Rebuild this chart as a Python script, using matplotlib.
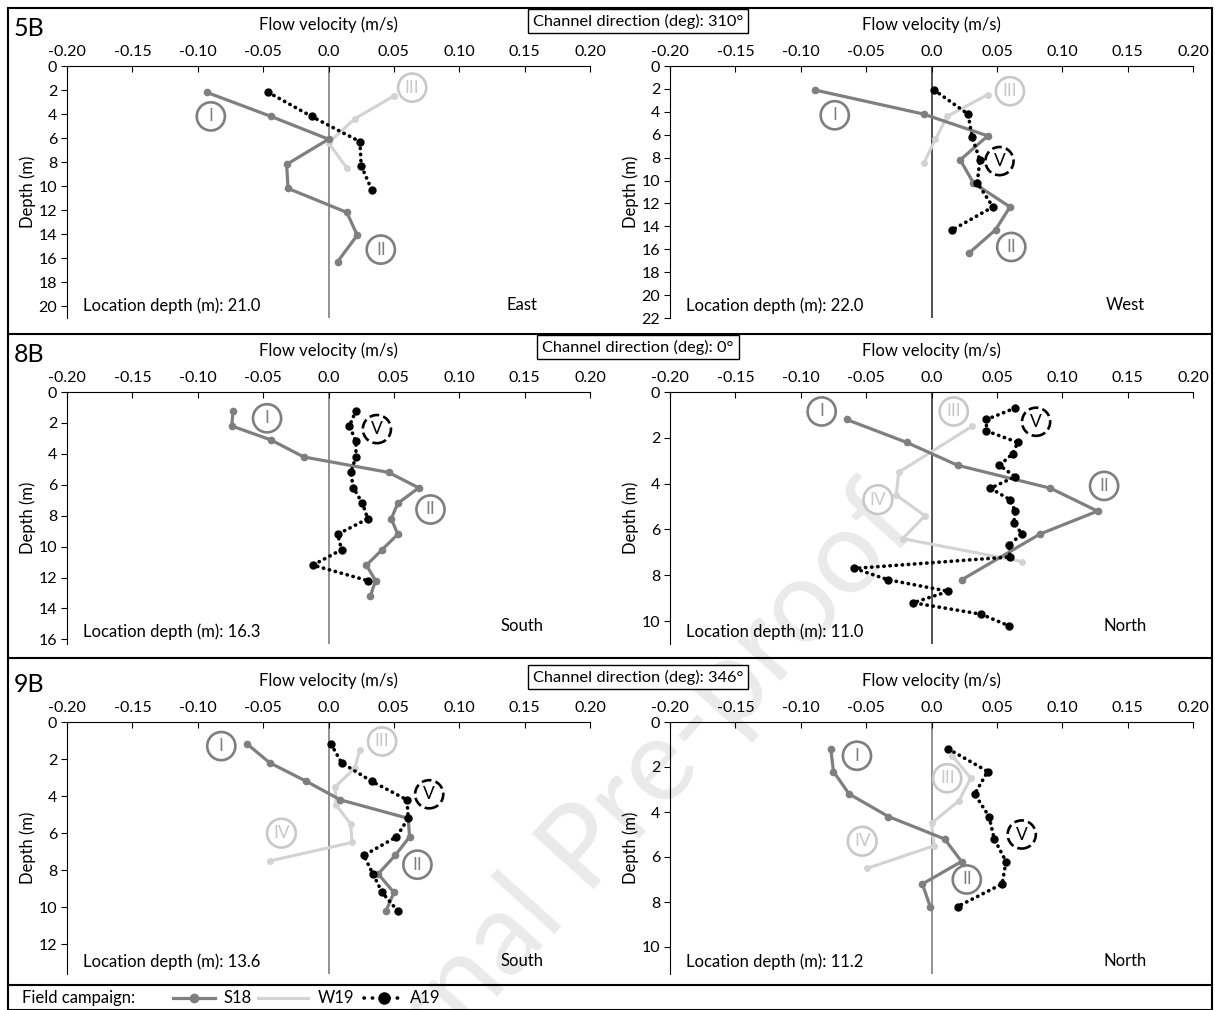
import matplotlib.pyplot as plt
from matplotlib.lines import Line2D
from matplotlib.patches import Rectangle

plt.rcParams['font.family'] = ['Lato', 'DejaVu Sans']

# ---- data: flow velocity (m/s) vs depth (m) ----
# 5B east
s18_5b_e_v = [-0.093, -0.044, 0.000, -0.032, -0.031, 0.014, 0.022, 0.007]
s18_5b_e_d = [2.2, 4.2, 6.1, 8.2, 10.2, 12.2, 14.1, 16.3]
w19_5b_e_v = [0.050, 0.020, 0.000, 0.014]
w19_5b_e_d = [2.5, 4.4, 6.4, 8.5]
a19_5b_e_v = [-0.046, -0.013, 0.024, 0.025, 0.033]
a19_5b_e_d = [2.2, 4.2, 6.3, 8.3, 10.3]

# 5B west
s18_5b_w_v = [-0.089, -0.006, 0.043, 0.022, 0.032, 0.060, 0.049, 0.029]
s18_5b_w_d = [2.1, 4.2, 6.1, 8.2, 10.2, 12.3, 14.3, 16.3]
w19_5b_w_v = [0.043, 0.012, 0.003, -0.006]
w19_5b_w_d = [2.5, 4.4, 6.4, 8.5]
a19_5b_w_v = [0.002, 0.028, 0.031, 0.037, 0.035, 0.047, 0.016]
a19_5b_w_d = [2.1, 4.2, 6.2, 8.2, 10.2, 12.3, 14.3]

# 8B south
s18_8b_s_v = [-0.073, -0.074, -0.044, -0.019, 0.046, 0.069, 0.053, 0.048,
              0.053, 0.041, 0.029, 0.036, 0.032]
s18_8b_s_d = [1.2, 2.2, 3.1, 4.2, 5.2, 6.2, 7.2, 8.2, 9.2, 10.2, 11.2, 12.2, 13.2]
a19_8b_s_v = [0.021, 0.016, 0.021, 0.021, 0.017, 0.019, 0.026, 0.030,
              0.007, 0.010, -0.012, 0.030]
a19_8b_s_d = [1.2, 2.2, 3.2, 4.2, 5.2, 6.2, 7.2, 8.2, 9.2, 10.2, 11.2, 12.2]

# 8B north
s18_8b_n_v = [-0.065, -0.019, 0.020, 0.091, 0.127, 0.083, 0.023]
s18_8b_n_d = [1.2, 2.2, 3.2, 4.2, 5.2, 6.2, 8.2]
w19_8b_n_v = [0.031, -0.025, -0.027, -0.005, -0.022, 0.069]
w19_8b_n_d = [1.5, 3.5, 4.5, 5.4, 6.4, 7.4]
a19_8b_n_v = [0.064, 0.042, 0.042, 0.066, 0.062, 0.052, 0.064, 0.045, 0.060, 0.064,
              0.063, 0.069, 0.059, 0.060, -0.059, -0.033, 0.013, -0.014, 0.038, 0.059]
a19_8b_n_d = [0.7, 1.2, 1.7, 2.2, 2.7, 3.2, 3.7, 4.2, 4.7, 5.2,
              5.7, 6.2, 6.7, 7.2, 7.7, 8.2, 8.7, 9.2, 9.7, 10.2]

# 9B south
s18_9b_s_v = [-0.062, -0.045, -0.017, 0.009, 0.061, 0.062, 0.051, 0.038, 0.050, 0.044]
s18_9b_s_d = [1.2, 2.2, 3.2, 4.2, 5.2, 6.2, 7.2, 8.2, 9.2, 10.2]
w19_9b_s_v = [0.024, 0.020, 0.005, 0.006, 0.017, 0.018, -0.045]
w19_9b_s_d = [1.5, 2.5, 3.5, 4.5, 5.5, 6.5, 7.5]
a19_9b_s_v = [0.002, 0.010, 0.033, 0.060, 0.061, 0.052, 0.027, 0.034, 0.041, 0.053]
a19_9b_s_d = [1.2, 2.2, 3.2, 4.2, 5.2, 6.2, 7.2, 8.2, 9.2, 10.2]

# 9B north
s18_9b_n_v = [-0.077, -0.075, -0.063, -0.033, 0.010, 0.023, -0.007, -0.001]
s18_9b_n_d = [1.2, 2.2, 3.2, 4.2, 5.2, 6.2, 7.2, 8.2]
w19_9b_n_v = [0.016, 0.030, 0.021, 0.000, 0.002, -0.049]
w19_9b_n_d = [1.5, 2.5, 3.5, 4.5, 5.5, 6.5]
a19_9b_n_v = [0.013, 0.043, 0.033, 0.044, 0.048, 0.057, 0.054, 0.020]
a19_9b_n_d = [1.2, 2.2, 3.2, 4.2, 5.2, 6.2, 7.2, 8.2]

sites = ['5B', '8B', '9B']
channel_dirs = ['310°', '0°', '346°']
loc_depths = [[21.0, 22.0], [16.3, 11.0], [13.6, 11.2]]
sides = [['East', 'West'], ['South', 'North'], ['South', 'North']]
x_ticks = [-0.20, -0.15, -0.10, -0.05, 0.0, 0.05, 0.10, 0.15, 0.20]
x_tick_labels = ['-0.20', '-0.15', '-0.10', '-0.05', '0.0', '0.05', '0.10', '0.15', '0.20']

panels = [
    [dict(s18=(s18_5b_e_v, s18_5b_e_d), w19=(w19_5b_e_v, w19_5b_e_d), a19=(a19_5b_e_v, a19_5b_e_d),
          labels=[('I', -0.090, 4.2), ('III', 0.064, 1.8), ('II', 0.040, 15.3)]),
     dict(s18=(s18_5b_w_v, s18_5b_w_d), w19=(w19_5b_w_v, w19_5b_w_d), a19=(a19_5b_w_v, a19_5b_w_d),
          labels=[('I', -0.074, 4.3), ('III', 0.060, 2.2), ('V', 0.052, 8.3), ('II', 0.061, 15.8)])],
    [dict(s18=(s18_8b_s_v, s18_8b_s_d), w19=None, a19=(a19_8b_s_v, a19_8b_s_d),
          labels=[('I', -0.047, 1.7), ('V', 0.037, 2.4), ('II', 0.078, 7.6)]),
     dict(s18=(s18_8b_n_v, s18_8b_n_d), w19=(w19_8b_n_v, w19_8b_n_d), a19=(a19_8b_n_v, a19_8b_n_d),
          labels=[('I', -0.084, 0.85), ('III', 0.017, 0.85), ('V', 0.080, 1.3),
                  ('II', 0.132, 4.1), ('IV', -0.041, 4.7)])],
    [dict(s18=(s18_9b_s_v, s18_9b_s_d), w19=(w19_9b_s_v, w19_9b_s_d), a19=(a19_9b_s_v, a19_9b_s_d),
          labels=[('I', -0.082, 1.3), ('III', 0.041, 1.05), ('V', 0.077, 3.9),
                  ('IV', -0.036, 6.0), ('II', 0.068, 7.7)]),
     dict(s18=(s18_9b_n_v, s18_9b_n_d), w19=(w19_9b_n_v, w19_9b_n_d), a19=(a19_9b_n_v, a19_9b_n_d),
          labels=[('I', -0.057, 1.5), ('III', 0.012, 2.5), ('IV', -0.053, 5.3),
                  ('V', 0.069, 5.0), ('II', 0.027, 7.0)])],
]

S18_COL = '#7f7f7f'
W19_COL = '#d3d3d3'
A19_COL = 'black'
label_cols = {'I': S18_COL, 'II': S18_COL, 'III': '#c8c8c8', 'IV': '#c8c8c8', 'V': 'black'}

W, H = 1215, 1010
fig = plt.figure(figsize=(W / 100, H / 100), dpi=100)

# watermark (runs off the lower edge, as in the source figure)
wm = fig.text(595 / W, 1 - 840 / H, 'Journal Pre-proof', fontsize=84, color='#eaeaea',
              rotation=48, ha='center', va='center', zorder=-5)
wm.set_clip_on(True)

# frame and separators
fig.add_artist(Rectangle((8 / W, 0), 1204 / W, 1 - 8 / H, transform=fig.transFigure,
                         fill=False, lw=1.5, ec='black'))
for yy in [334, 658, 985]:
    fig.add_artist(Line2D([8 / W, 1212 / W], [1 - yy / H] * 2, transform=fig.transFigure,
                          color='black', lw=1.5))

row_top = [66, 392, 722]
row_h = 252
col_left = [67, 670]
col_w = 523

for r in range(3):
    top = row_top[r]
    # site label and channel direction box
    fig.text(14 / W, 1 - (top - 38) / H, sites[r], fontsize=18, ha='left', va='center')
    fig.text(638 / W, 1 - (top - 45) / H, 'Channel direction (deg): ' + channel_dirs[r],
             fontsize=11.8, ha='center', va='center',
             bbox=dict(boxstyle='square,pad=0.3', fc='white', ec='black', lw=1))
    for c in range(2):
        p = panels[r][c]
        ax = fig.add_axes([col_left[c] / W, 1 - (top + row_h) / H, col_w / W, row_h / H])
        ax.patch.set_alpha(0)
        ldep = loc_depths[r][c]
        ax.set_xlim(-0.2, 0.2)
        ax.set_ylim(ldep, 0)
        ax.xaxis.tick_top()
        ax.xaxis.set_label_position('top')
        ax.set_xticks(x_ticks)
        ax.set_xticklabels(x_tick_labels)
        ax.set_yticks(range(0, int(ldep) + 1, 2))
        ax.tick_params(axis='x', direction='in', length=4, labelsize=11.5, pad=5)
        ax.tick_params(axis='y', direction='out', length=4, labelsize=11.5, pad=3)
        for s in ['right', 'bottom']:
            ax.spines[s].set_visible(False)
        ax.set_xlabel('Flow velocity (m/s)', fontsize=12, labelpad=11)
        ax.set_ylabel('Depth (m)', fontsize=12, labelpad=2)
        ax.axvline(0, color='#333333' if c == 1 and r < 2 else '#808080', lw=1.2, zorder=1)

        if p['w19'] is not None:
            ax.plot(p['w19'][0], p['w19'][1], color=W19_COL, lw=2.2, marker='o', ms=4, zorder=2)
        ax.plot(p['s18'][0], p['s18'][1], color=S18_COL, lw=2.3, marker='o', ms=4.5, zorder=3)
        ax.plot(p['a19'][0], p['a19'][1], color=A19_COL, lw=2.6, ls=(0, (0.1, 1.6)),
                dash_capstyle='round', marker='o', ms=5, zorder=4)

        # roman-numeral tags in circles
        for lab, lx, ly in p['labels']:
            col = label_cols[lab]
            ax.text(lx, ly, lab, fontsize=12.5, color=col, ha='center', va='center', zorder=5,
                    bbox=dict(boxstyle='circle,pad=0.35', fc='white', ec=col, lw=1.9,
                              ls='--' if lab == 'V' else '-'))

        ax.text(0.03, 0.05, 'Location depth (m): %.1f' % ldep, transform=ax.transAxes,
                fontsize=12, ha='left', va='center')
        ax.text(0.87, 0.05 if r != 1 else 0.07, sides[r][c], transform=ax.transAxes,
                fontsize=12, ha='center', va='center')

# legend row
ly = 1 - 998 / H
fig.text(22 / W, ly, 'Field campaign:', fontsize=12, ha='left', va='center')
fig.add_artist(Line2D([173 / W, 215 / W], [ly, ly], color=S18_COL, lw=2.3))
fig.add_artist(Line2D([194 / W], [ly], color=S18_COL, marker='o', ms=6))
fig.text(223 / W, ly, 'S18', fontsize=12, ha='left', va='center')
fig.add_artist(Line2D([258 / W, 308 / W], [ly, ly], color=W19_COL, lw=2.2))
fig.text(318 / W, ly, 'W19', fontsize=12, ha='left', va='center')
fig.add_artist(Line2D([364 / W, 404 / W], [ly, ly], color='black', lw=2.6,
                      ls=(0, (0.1, 2.2)), dash_capstyle='round'))
fig.add_artist(Line2D([384 / W], [ly], color='black', marker='o', ms=8))
fig.text(410 / W, ly, 'A19', fontsize=12, ha='left', va='center')

fig.savefig('out.png', dpi=100)
